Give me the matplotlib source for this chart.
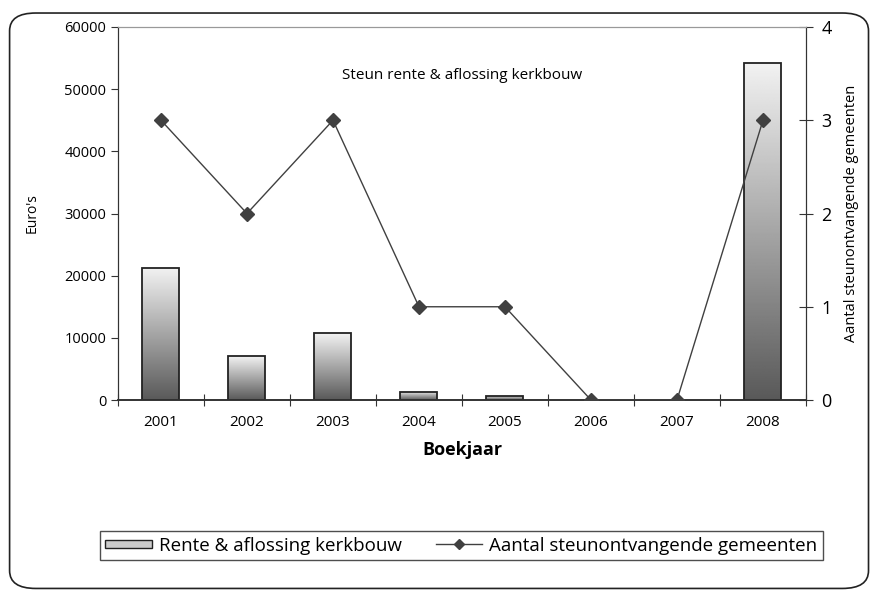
import matplotlib.pyplot as plt
import numpy as np
from matplotlib.patches import FancyBboxPatch, Rectangle
from matplotlib.legend_handler import HandlerBase
from matplotlib.lines import Line2D

plt.rcParams['font.family'] = ['Open Sans', 'DejaVu Sans']

years = ["2001", "2002", "2003", "2004", "2005", "2006", "2007", "2008"]
euros = [21250, 7050, 10750, 1330, 690, 0, 0, 54250]
gemeenten = [3, 2, 3, 1, 1, 0, 0, 3]

x = np.arange(len(years))
bar_w = 0.43

fig = plt.figure(figsize=(8.72, 5.92), dpi=100)
ax = fig.add_axes([0.1353, 0.3243, 0.789, 0.6301])
ax2 = ax.twinx()

# gradient-filled bars: light at top, dark at bottom
grad = np.linspace(0.95, 0.35, 256).reshape(-1, 1)
for xi, v in zip(x, euros):
    if v <= 0:
        continue
    im = ax.imshow(grad, cmap="gray", vmin=0, vmax=1, aspect="auto",
                   extent=(xi - bar_w / 2, xi + bar_w / 2, 0, v), zorder=2)
    r = Rectangle((xi - bar_w / 2, 0), bar_w, v, facecolor="none",
                  edgecolor="#222222", linewidth=1.3, zorder=3)
    ax.add_patch(r)
    im.set_clip_path(r)

ax.set_xlim(-0.5, len(years) - 0.5)
ax.set_ylim(0, 60000)
ax.set_yticks(range(0, 60001, 10000))
ax.set_xticks(x)
ax.set_xticklabels(years, fontsize=11)
ax.tick_params(axis="x", length=0, pad=11)
ax.set_xticks(np.arange(-0.5, len(years)), minor=True)
ax.tick_params(axis="x", which="minor", direction="inout", length=8, width=0.8, color="#333333")
ax.tick_params(axis="y", direction="out", length=5, width=0.8, labelsize=10.5, color="#333333")

ax2.plot(x, gemeenten, color="#404040", linewidth=1, marker="D", markersize=7,
         markerfacecolor="#404040", markeredgecolor="#404040", zorder=5)
ax2.set_ylim(0, 4)
ax2.set_yticks(range(5))
ax2.tick_params(axis="y", direction="inout", length=10, width=0.8, labelsize=13, pad=6, color="#333333")

for a in (ax, ax2):
    a.spines["top"].set_color("#999999")
    a.spines["left"].set_color("#333333")
    a.spines["right"].set_color("#333333")
    a.spines["bottom"].set_color("#333333")
    a.spines["bottom"].set_linewidth(1.2)
ax.set_zorder(ax2.get_zorder() - 1)
ax2.patch.set_visible(False)

ax.text(0.5, 0.87, "Steun rente & aflossing kerkbouw", transform=ax.transAxes,
        ha="center", va="center", fontsize=11)
ax.set_ylabel("Euro's", fontsize=10, labelpad=18)
ax2.set_ylabel("Aantal steunontvangende gemeenten", fontsize=10.5, labelpad=9)
ax.set_xlabel("Boekjaar", fontsize=13, fontweight="bold", labelpad=8)


class GradHandler(HandlerBase):
    def create_artists(self, legend, orig, xd, yd, w, h, fontsize, trans):
        r = Rectangle((xd, yd + 2), w, h - 4, facecolor="#cccccc",
                      edgecolor="#222222", linewidth=1, transform=trans)
        return [r]


bar_handle = Rectangle((0, 0), 1, 1)
line_handle = Line2D([], [], color="#404040", linewidth=1, marker="D", markersize=5)
leg = fig.legend([bar_handle, line_handle],
                 ["Rente & aflossing kerkbouw", "Aantal steunontvangende gemeenten"],
                 handler_map={Rectangle: GradHandler()},
                 loc="center", bbox_to_anchor=(0.529, 0.078), ncol=2, fontsize=13.5,
                 frameon=True, fancybox=False, edgecolor="#222222",
                 handlelength=2.5, columnspacing=1.8, handletextpad=0.35,
                 borderpad=0.3, borderaxespad=0)
leg.get_frame().set_linewidth(1)

frame = FancyBboxPatch((0.011, 0.006), 0.985, 0.972, transform=fig.transFigure,
                       boxstyle="round,pad=0,rounding_size=0.03",
                       facecolor="none", edgecolor="#222222", linewidth=1.2)
fig.patches.append(frame)

fig.savefig("out.png", dpi=100)
